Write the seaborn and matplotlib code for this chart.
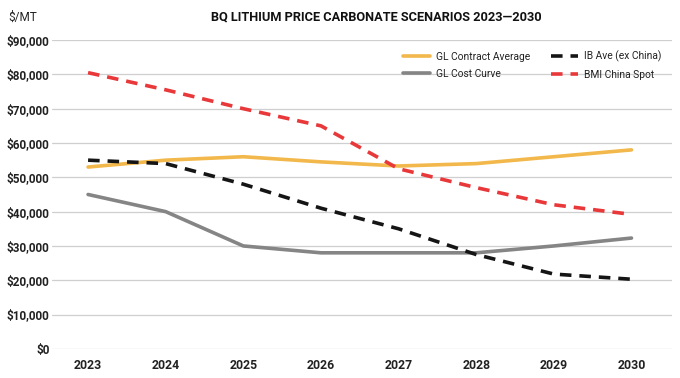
import pandas as pd
import seaborn as sns
from matplotlib import pyplot as plt
import matplotlib.ticker as mtick

years = ['2023', '2024', '2025', '2026', '2027', '2028', '2029', '2030']
gl_contract = [53000, 55000, 56000, 54500, 53300, 54000, 56000, 58000]
gl_cost = [45000, 40000, 30000, 28000, 28000, 28000, 30000, 32300]
ib_ave = [55000, 54000, 48000, 41000, 35000, 27500, 21800, 20300]
bmi_spot = [80500, 75500, 70000, 65000, 52500, 47000, 42000, 39200]

series_names = ['GL Contract Average', 'GL Cost Curve', 'IB Ave (ex China)', 'BMI China Spot']
colors = ['#F2B84B', '#858585', '#151515', '#E8383A']
dash_styles = ['', '', (3.2, 2.2), (3.2, 2.2)]

sns.set_style('white')
plt.rcParams['font.family'] = ['Roboto', 'DejaVu Sans']


def build_frame():
    rows = []
    for name, values in zip(series_names, [gl_contract, gl_cost, ib_ave, bmi_spot]):
        for i, v in enumerate(values):
            rows.append({'pos': i, 'series': name, 'value': v})
    return pd.DataFrame(rows)


def main():
    df = build_frame()

    fig, ax = plt.subplots(figsize=(6.8, 3.78), dpi=100)
    fig.subplots_adjust(left=0.077, right=0.988, top=0.894, bottom=0.077)

    sns.lineplot(data=df, x='pos', y='value', hue='series', style='series',
                 hue_order=series_names, style_order=series_names,
                 palette=dict(zip(series_names, colors)),
                 dashes=dict(zip(series_names, dash_styles)),
                 linewidth=2.6, ax=ax, errorbar=None)

    # Axes and grid
    ax.set_xlim(-0.46, 7.52)
    ax.set_ylim(0, 90000)
    ax.set_xticks(range(len(years)))
    ax.set_xticklabels(years, fontsize=8.8, fontweight='bold', color='#222222')
    ax.yaxis.set_major_locator(mtick.MultipleLocator(10000))
    ax.yaxis.set_major_formatter(mtick.StrMethodFormatter('${x:,.0f}'))
    for lbl in ax.get_yticklabels():
        lbl.set_fontsize(8.5)
        lbl.set_fontweight('bold')
        lbl.set_color('#222222')
    ax.tick_params(axis='y', length=0, pad=2)
    ax.tick_params(axis='x', length=0, pad=7)
    ax.grid(True, axis='y', color='#cfcfcf', linewidth=0.9)
    ax.set_axisbelow(True)
    for s in ax.spines.values():
        s.set_visible(False)
    ax.set_xlabel('')
    ax.set_ylabel('')

    leg = ax.legend(loc='upper right', ncol=2, frameon=False, fontsize=7.4,
                    bbox_to_anchor=(0.998, 0.995), handlelength=2.6,
                    handletextpad=0.6, columnspacing=2.0, labelspacing=0.7)
    for t in leg.get_texts():
        t.set_color('#222222')

    fig.text(0.554, 0.955, 'BQ LITHIUM PRICE CARBONATE SCENARIOS 2023\u20142030',
             ha='center', va='center', fontsize=9.2, fontweight='bold', color='#111111')
    fig.text(0.012, 0.955, '$/MT', ha='left', va='center', fontsize=8.5, color='#222222')

    plt.savefig('out.png', dpi=100)


if __name__ == "__main__":
    main()
